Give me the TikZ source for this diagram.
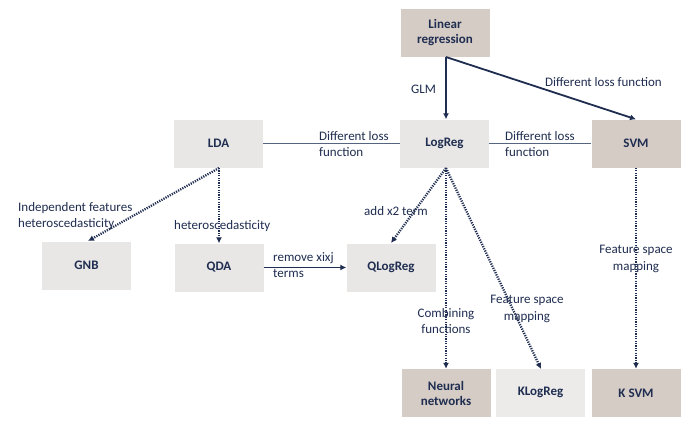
\documentclass[tikz,border=0pt]{standalone}
\usepackage{fontspec}
\setmainfont{Carlito}
\usetikzlibrary{arrows.meta}
\definecolor{navy}{HTML}{1F2D50}
\definecolor{lineblue}{HTML}{56657F}
\definecolor{tan}{HTML}{D5CCC6}
\definecolor{lgray}{HTML}{E8E7E6}
\definecolor{lgray2}{HTML}{ECEBEA}
\tikzset{
  box/.style={minimum width=89pt, minimum height=48pt, inner sep=0pt, font=\fontsize{13}{15}\selectfont\bfseries, text=navy, align=center},
  tanbox/.style={box, fill=tan},
  graybox/.style={box, fill=lgray},
  lbl/.style={font=\fontsize{13}{16.5}\selectfont, text=navy, inner sep=0pt},
  solidarrow/.style={draw=navy, line width=1.8pt, -{Latex[length=6pt,width=6pt]}},
  dotarrow/.style={draw=navy, line width=2.3pt, dash pattern=on 1.2pt off 1.2pt, -{Latex[length=6pt,width=6pt]}},
  link/.style={draw=lineblue, line width=1.3pt}
}
\begin{document}
\begin{tikzpicture}[x=1pt,y=-1pt]
\useasboundingbox (0,0) rectangle (700,434);
\fill[white] (0,0) rectangle (700,434);
\node[tanbox] (lin) at (445,32.5) {Linear\\regression};
\node[graybox] (lda) at (218.5,143.5) {LDA};
\node[graybox] (logreg) at (444.5,143.5) {LogReg};
\node[tanbox] (svm) at (636,143.5) {SVM};
\node[graybox] (gnb) at (86.5,265.5) {GNB};
\node[graybox] (qda) at (219,267.5) {QDA};
\node[graybox] (qlog) at (391,267.5) {QLogReg};
\node[tanbox] (nn) at (446,393) {Neural\\networks};
\node[box, fill=lgray2] (klog) at (540.5,392.5) {KLogReg};
\node[tanbox] (ksvm) at (636,393) {K SVM};

\coordinate (linb) at (446,57);
\draw[solidarrow] (linb) -- (logreg.north -| linb);
\draw[solidarrow] (linb) -- (svm.north);
\node[lbl, anchor=west] at (411,89) {GLM};
\node[lbl, anchor=west] at (545,82) {Different loss function};

\draw[link] (lda.east) -- (logreg.west);
\draw[link] (logreg.east) -- (svm.west);
\node[lbl, anchor=north west, align=left] at (319,131) {Different loss\\function};
\node[lbl, anchor=north west, align=left] at (505,131) {Different loss\\function};

\coordinate (ldab) at (219,168);
\draw[dotarrow] (ldab) -- (88,241);
\draw[dotarrow] (ldab) -- (qda.north);
\node[lbl, anchor=north west, align=left] at (18,202) {Independent features\\heteroscedasticity};
\node[lbl, anchor=west] at (174,226) {heteroscedasticity};

\draw[solidarrow] (qda.east) -- (qlog.west);
\node[lbl, anchor=north west, align=left] at (273,252) {remove xixj\\terms};

\coordinate (logb) at (446,168);
\draw[dotarrow] (logb) -- (391,243);
\draw[dotarrow] (logb) -- (nn.north);
\draw[dotarrow] (logb) -- (541,369);
\node[lbl, anchor=west] at (364,211) {add x2 term};
\node[lbl, align=center] at (446,321) {Combining\\functions};
\node[lbl, align=center] at (527,309) {Feature space\\mapping};

\draw[dotarrow] (svm.south) -- (ksvm.north);
\node[lbl, align=center] at (636,259) {Feature space\\mapping};
\end{tikzpicture}
\end{document}
